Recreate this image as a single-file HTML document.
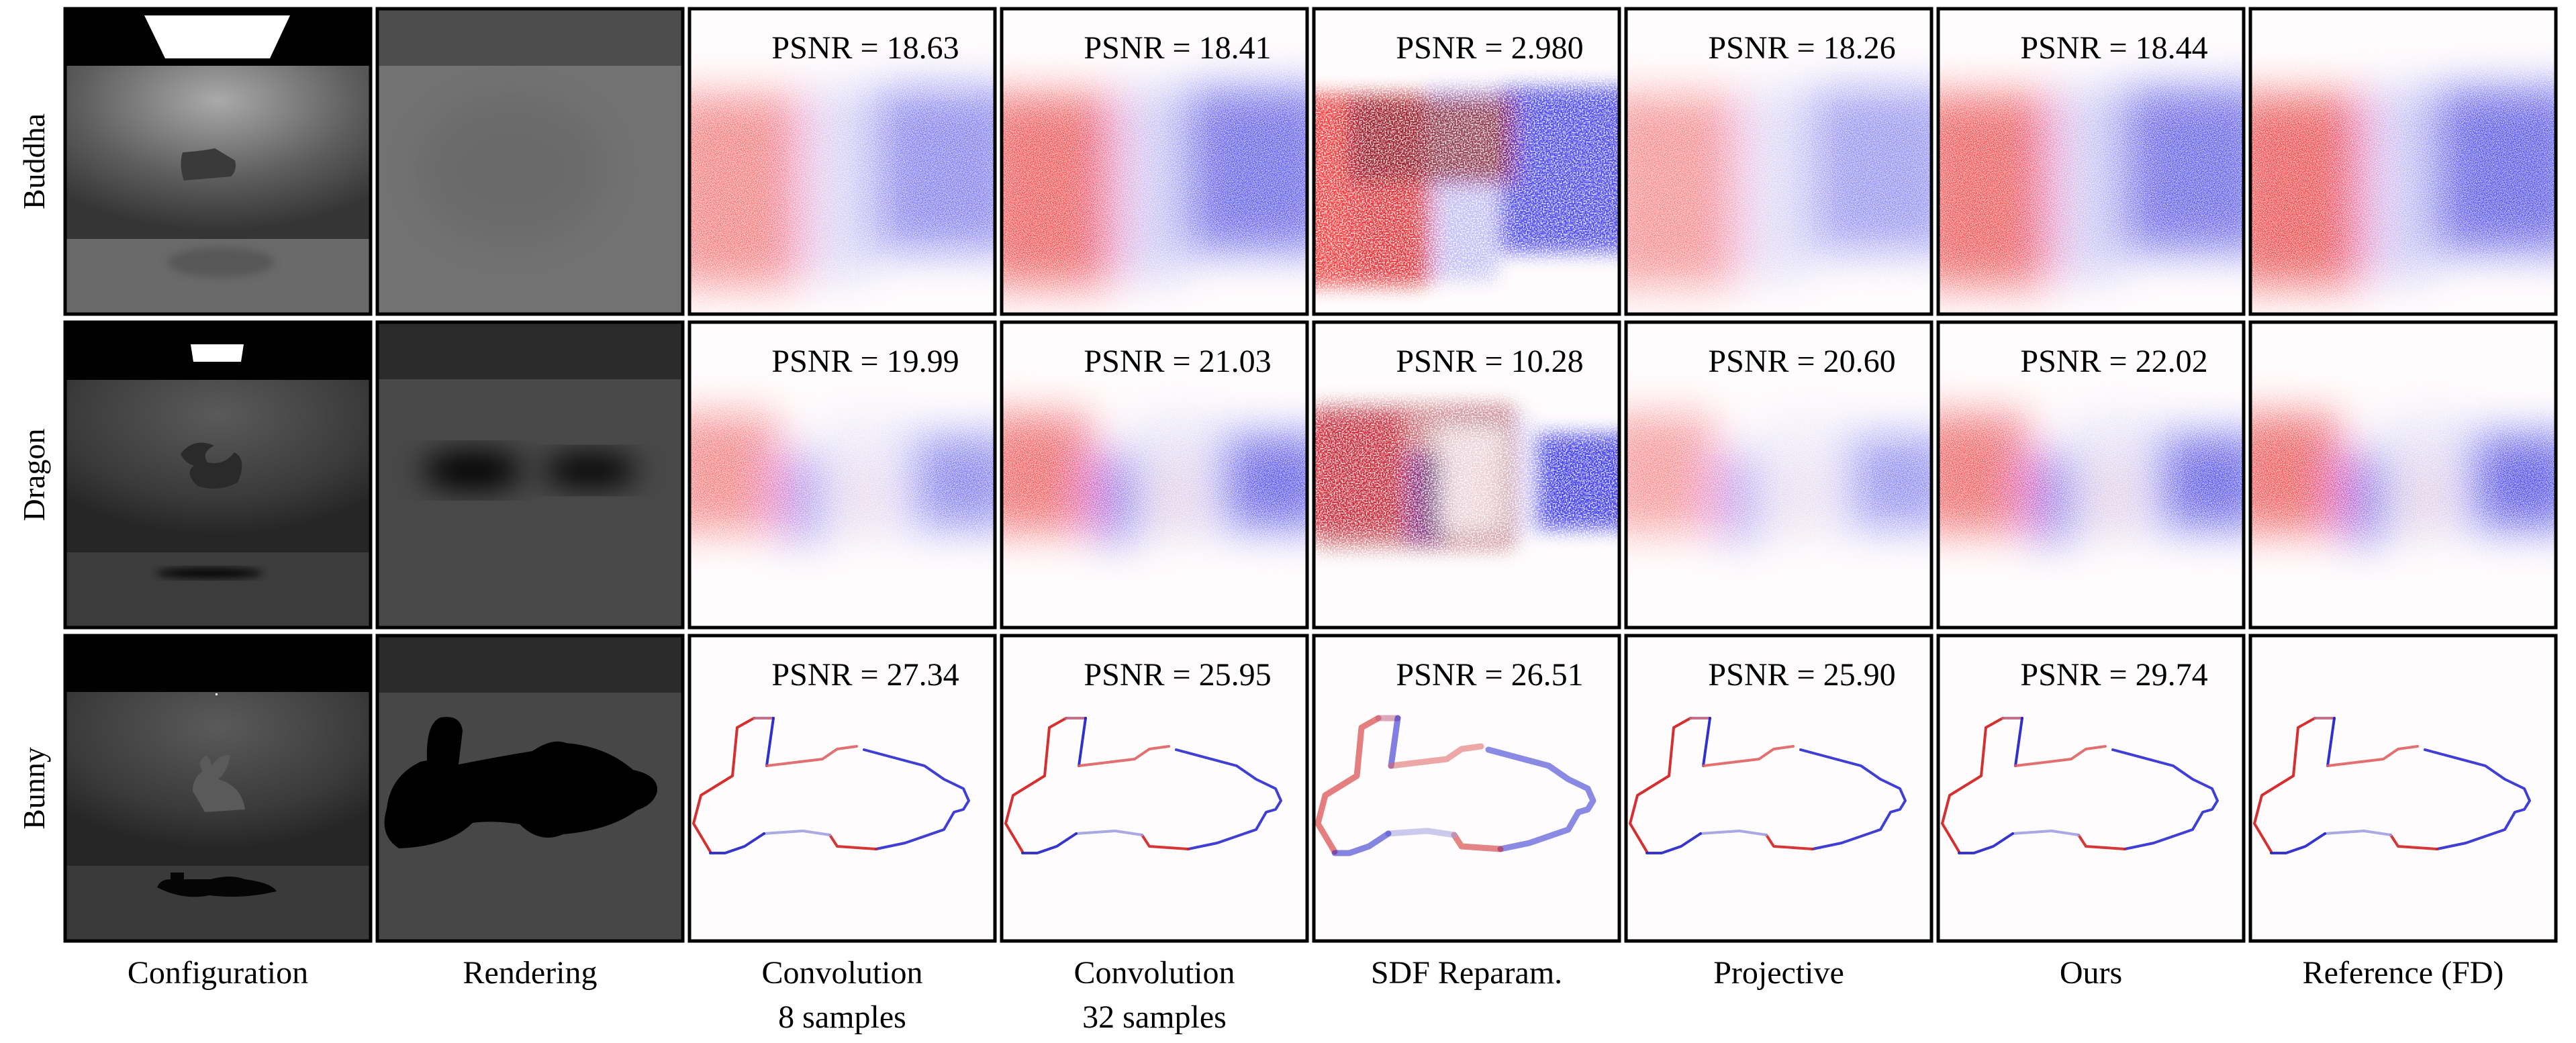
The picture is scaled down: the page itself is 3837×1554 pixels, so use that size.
<!DOCTYPE html>
<html><head><meta charset="utf-8">
<style>
html,body{margin:0;padding:0;background:#fff;}
svg{display:block;}
</style></head>
<body>
<svg id="fig" width="3837" height="1554" viewBox="0 0 3837 1554" xmlns="http://www.w3.org/2000/svg" font-family="'Liberation Serif', serif">
<defs>
  <filter id="blur" x="-30%" y="-30%" width="160%" height="160%"><feGaussianBlur stdDeviation="22"/></filter>
  <filter id="blurS" x="-30%" y="-30%" width="160%" height="160%"><feGaussianBlur stdDeviation="6"/></filter>
  <filter id="noisy" x="0" y="0" width="100%" height="100%">
    <feGaussianBlur in="SourceGraphic" stdDeviation="32" result="b"/>
    <feTurbulence type="fractalNoise" baseFrequency="0.8" numOctaves="1" seed="3" result="n"/>
    <feColorMatrix in="n" type="matrix" values="0 0 0 0 1  0 0 0 0 1  0 0 0 0 1  0 0 0 2.0 -0.35" result="na"/>
    <feComposite in="b" in2="na" operator="in"/>
  </filter>
  <filter id="noisyS" x="0" y="0" width="100%" height="100%">
    <feGaussianBlur in="SourceGraphic" stdDeviation="14" result="b"/>
    <feTurbulence type="fractalNoise" baseFrequency="0.5" numOctaves="2" seed="7" result="n"/>
    <feColorMatrix in="n" type="matrix" values="0 0 0 0 1  0 0 0 0 1  0 0 0 0 1  0 0 0 3 -0.8" result="na"/>
    <feComposite in="b" in2="na" operator="in"/>
  </filter>
  <radialGradient id="wallB" cx="0.5" cy="0.2" r="0.75"><stop offset="0" stop-color="#aaaaaa"/><stop offset="0.6" stop-color="#5e5e5e"/><stop offset="1" stop-color="#353535"/></radialGradient>
  <radialGradient id="wallD" cx="0.5" cy="0.2" r="0.7"><stop offset="0" stop-color="#5a5a5a"/><stop offset="0.7" stop-color="#3a3a3a"/><stop offset="1" stop-color="#262626"/></radialGradient>
  <clipPath id="pc"><rect x="0" y="0" width="455" height="455"/></clipPath>
</defs>
<g id="root"></g>
</svg>
<script>
const NS="http://www.w3.org/2000/svg";
const rowNames=["Buddha","Dragon","Bunny"];
const colLabels=[["Configuration"],["Rendering"],["Convolution","8 samples"],["Convolution","32 samples"],["SDF Reparam."],["Projective"],["Ours"],["Reference (FD)"]];
const psnrBuddha=["18.63","18.41","2.980","18.26","18.44"];
const psnrDragon=["19.99","21.03","10.28","20.60","22.02"];
const psnrBunny=["27.34","25.95","26.51","25.90","29.74"];
const psnr=[psnrBuddha,psnrDragon,psnrBunny];
const intensity=[0.7,0.9,0.95,0.6,0.9,0.95];

const colX=i=>97+465*i, rowY=r=>13+467*r, P=455;
const FONT="'Liberation Serif', serif";
const root=document.getElementById('root');
function el(tag,attrs,parent){const e=document.createElementNS(NS,tag);for(const k in attrs)e.setAttribute(k,attrs[k]);(parent||root).appendChild(e);return e;}

function config(g,r){
  if(r===0){
    el('rect',{x:0,y:0,width:P,height:P,fill:'#000'},g);
    el('rect',{x:0,y:85,width:P,height:258,fill:'url(#wallB)'},g);
    el('rect',{x:0,y:343,width:P,height:112,fill:'#6a6a6a'},g);
    el('ellipse',{cx:232,cy:378,rx:80,ry:22,fill:'#444',opacity:0.5,filter:'url(#blurS)'},g);
    el('polygon',{points:'118,10 335,10 305,74 149,74',fill:'#fff'},g);
    el('path',{d:'M175,214 q-6,20 2,42 l70,-6 q10,-10 6,-24 l-30,-18 q-20,4 -48,6z',fill:'#3a3a3a'},g);
  } else if(r===1){
    el('rect',{x:0,y:0,width:P,height:P,fill:'#000'},g);
    el('rect',{x:0,y:86,width:P,height:257,fill:'url(#wallD)'},g);
    el('rect',{x:0,y:343,width:P,height:112,fill:'#3c3c3c'},g);
    el('ellipse',{cx:215,cy:374,rx:80,ry:7,fill:'#050505',filter:'url(#blurS)'},g);
    el('polygon',{points:'187,33 266,33 262,59 191,59',fill:'#fff'},g);
    el('path',{d:'M172,196 q20,-25 50,-12 q-20,10 -10,25 q25,5 40,-15 q20,10 5,45 q-30,15 -60,5 q-20,-20 -5,-30 q-15,-5 -20,-18z',fill:'#2a2a2a'},g);
  } else {
    el('rect',{x:0,y:0,width:P,height:P,fill:'#000'},g);
    el('rect',{x:0,y:84,width:P,height:259,fill:'url(#wallD)'},g);
    el('rect',{x:0,y:343,width:P,height:112,fill:'#3a3a3a'},g);
    el('rect',{x:224,y:86,width:3,height:3,fill:'#fff'},g);
    el('path',{d:'M137,375 q5,-12 20,-12 l0,-10 l20,0 l0,10 l40,0 q30,-8 50,0 q40,5 48,18 q-50,12 -100,6 q-40,8 -78,-12z',fill:'#050505'},g);
    el('path',{d:'M190,232 q0,-20 15,-30 q-10,-15 5,-23 q8,5 8,15 q15,-20 28,-15 q-5,25 -18,35 q35,10 40,45 l-60,4 q-5,-10 -18,-31z',fill:'#5a5a5a'},g);
  }
}
function render(g,r){
  const top=['#4d4d4d','#2b2b2b','#2b2b2b'][r], bot=['#727272','#484848','#474747'][r];
  el('rect',{x:0,y:0,width:P,height:P,fill:bot},g);
  el('rect',{x:0,y:0,width:P,height:85,fill:top},g);
  if(r===0){el('ellipse',{cx:200,cy:240,rx:140,ry:110,fill:'#606060',opacity:0.4,filter:'url(#blur)'},g);}
  if(r===1){
    el('ellipse',{cx:142,cy:221,rx:75,ry:28,fill:'#000',filter:'url(#blur)'},g);
    el('ellipse',{cx:317,cy:221,rx:70,ry:24,fill:'#050505',filter:'url(#blur)'},g);
  }
  if(r===2){
    el('path',{d:'M14,258 q5,-48 50,-70 l10,-2 q-2,-55 20,-64 q30,-5 33,20 l-6,50 q50,-10 110,-20 q30,-20 50,-12 q60,5 100,40 q38,8 36,32 q-5,20 -30,28 q-40,30 -110,36 q-35,15 -65,-15 q-40,-6 -70,-2 q-35,35 -110,38 q-30,-20 -18,-59z',fill:'#000'},g);
  }
}
function heat(g,r,m){
  const a=intensity[m];
  const filt=m===2?'url(#noisyS)':'url(#noisy)';
  const h=el('g',{filter:filt},g);
  el('rect',{x:0,y:0,width:P,height:P,fill:'#fff',opacity:0.01},h);
  if(r===0){
    el('rect',{x:-40,y:125,width:205,height:290,fill:'#f01818',opacity:a*0.9},h);
    el('rect',{x:170,y:115,width:105,height:290,fill:'#4040e0',opacity:a*0.35},h);
    el('rect',{x:278,y:115,width:220,height:250,fill:'#1818e8',opacity:a*0.85},h);
    if(m===2){el('rect',{x:50,y:130,width:250,height:130,fill:'#801020',opacity:0.8},h);
      el('rect',{x:60,y:260,width:120,height:150,fill:'#d02030',opacity:0.5},h);}
  } else if(r===1){
    el('rect',{x:-40,y:135,width:175,height:180,fill:'#f01818',opacity:a*0.85},h);
    el('rect',{x:138,y:195,width:60,height:135,fill:'#1818e0',opacity:a*0.8},h);
    el('rect',{x:243,y:205,width:35,height:115,fill:'#e04040',opacity:a*0.3},h);
    el('rect',{x:198,y:135,width:130,height:185,fill:'#6060e0',opacity:a*0.2},h);
    el('rect',{x:332,y:165,width:160,height:145,fill:'#1818e8',opacity:a*0.9},h);
    if(m===2){el('rect',{x:0,y:120,width:300,height:220,fill:'#a01020',opacity:0.55},h);
      el('rect',{x:190,y:160,width:90,height:150,fill:'#fff',opacity:0.7},h);}
  }
}
const bunnyRed=[[31,322],[6,280],[17,238],[64,209],[71,137],[96,123]];
const bunnyEarR=[[125,123],[115,194]];
const bunnyBack=[[115,194],[198,184],[220,169],[249,165]];
const bunnyRight=[[260,170],[350,194],[379,214],[408,228],[416,246],[408,259],[394,263],[379,289],[321,309],[278,318]];
const bunnyBottomR=[[278,318],[220,314],[209,297]];
const bunnyBottomM=[[209,297],[169,291],[111,295]];
const bunnyBottomB=[[111,295],[82,314],[53,324],[31,324]];
function outline(g,m){
  const w=m===2?9:4, op=m===2?0.55:0.9;
  const segs=[[bunnyRed,'#d01818'],[[[96,123],[125,123]],'#c06080'],[bunnyEarR,'#1a1acc'],[bunnyBack,'#e06060'],[bunnyRight,'#2a2ad0'],[bunnyBottomR,'#d02020'],[bunnyBottomM,'#a0a0e0'],[bunnyBottomB,'#2020c8']];
  segs.forEach(([pts,c])=>{
    const pl=el('polyline',{points:pts.map(p=>p.join(',')).join(' '),fill:'none',stroke:c,'stroke-width':w,'stroke-linejoin':'round','stroke-linecap':'round',opacity:op},g);
    
    
  });
}

for(let r=0;r<3;r++){
  const lab=el('text',{x:0,y:0,'font-size':46,'font-family':FONT,'text-anchor':'middle',transform:`translate(66,${rowY(r)+P/2}) rotate(-90)`,fill:'#000'});
  lab.textContent=rowNames[r];
  
  
  for(let c=0;c<8;c++){
    const g=el('g',{transform:`translate(${colX(c)},${rowY(r)})`});
    
    
    const inner=el('g',{'clip-path':'url(#pc)'},g);
    if(c===0) config(inner,r);
    else if(c===1) render(inner,r);
    else {
      el('rect',{x:0,y:0,width:P,height:P,fill:'#fffcfd'},inner);
      if(r<2) heat(inner,r,c-2); else outline(inner,c-2);
      if(c<7){
        const t=el('text',{x:262,y:74,'font-size':48,'font-family':FONT,'text-anchor':'middle',fill:'#000'},g);
        t.textContent='PSNR = '+psnr[r][c-2];
        
        
      }
    }
    el('rect',{x:0,y:0,width:P,height:P,fill:'none',stroke:'#000','stroke-width':5},g);
  }
}
for(let c=0;c<8;c++){
  colLabels[c].forEach((s,i)=>{
    const t=el('text',{x:colX(c)+P/2,y:1465+i*66,'font-size':48,'font-family':FONT,'text-anchor':'middle',fill:'#000'});
    t.textContent=s;
    
    
  });
}
</script>
</body></html>
